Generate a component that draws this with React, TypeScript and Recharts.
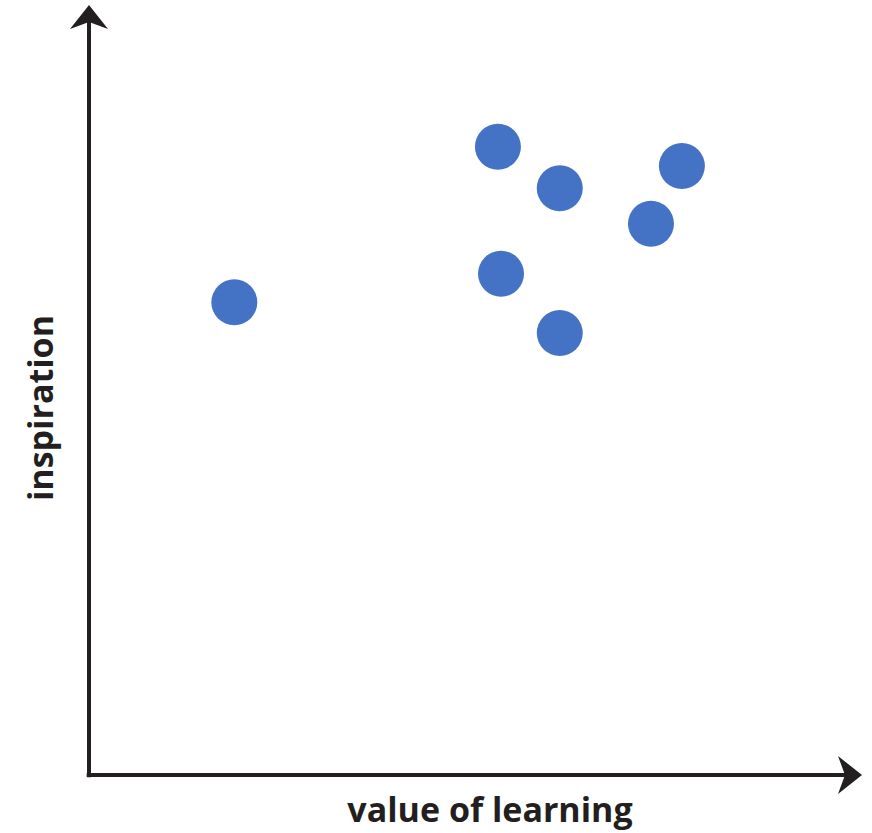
import React from 'react';
import { ScatterChart, Scatter, XAxis, YAxis, ReferenceDot, ReferenceLine } from 'recharts';

const learningValue = [18.8, 52.9, 60.9, 76.7, 72.7, 53.3, 60.9];
const inspiration = [61.4, 81.6, 76.2, 79.1, 71.6, 65.1, 57.4];

const points = learningValue.map((x, i) => ({ x, y: inspiration[i] }));

const INK = '#231f20';
const DOT = '#4472c4';

const UpArrow = (props: any) => {
  const { cx, cy } = props;
  return <polygon points={`${cx},${cy} ${cx + 19},${cy + 24} ${cx},${cy + 17} ${cx - 19},${cy + 24}`} fill={INK} />;
};

const RightArrow = (props: any) => {
  const { cx, cy } = props;
  return <polygon points={`${cx},${cy} ${cx - 24},${cy + 19} ${cx - 17},${cy} ${cx - 24},${cy - 19}`} fill={INK} />;
};

const Dot = (props: any) => <circle cx={props.cx} cy={props.cy} r={23} fill={DOT} />;

export default function App() {
  return (
    <div style={{ position: 'absolute', left: 0, top: 0, width: 872, height: 833, fontFamily: '"Open Sans", sans-serif' }}>
      <ScatterChart width={872} height={833} margin={{ top: 5, right: 10, bottom: 58, left: 89 }}>
        <XAxis type="number" dataKey="x" domain={[0, 100]} hide />
        <YAxis type="number" dataKey="y" domain={[0, 100]} hide />
        <ReferenceLine segment={[{ x: 0, y: -0.3 }, { x: 0, y: 98 }]} stroke={INK} strokeWidth={4} ifOverflow="visible" />
        <ReferenceLine segment={[{ x: -0.3, y: 0 }, { x: 98, y: 0 }]} stroke={INK} strokeWidth={4} ifOverflow="visible" />
        <ReferenceDot x={0} y={100} r={0} shape={UpArrow} ifOverflow="visible" />
        <ReferenceDot x={100} y={0} r={0} shape={RightArrow} ifOverflow="visible" />
        <Scatter data={points} shape={Dot} isAnimationActive={false} />
      </ScatterChart>
      <div style={{ position: 'absolute', left: 290, width: 400, top: 788, textAlign: 'center', fontWeight: 700, fontSize: 34, color: INK, lineHeight: '42px' }}>
        value of learning
      </div>
      <div style={{ position: 'absolute', left: 40, top: 408, width: 300, marginLeft: -150, marginTop: -21, textAlign: 'center', fontWeight: 700, fontSize: 34, color: INK, lineHeight: '42px', transform: 'rotate(-90deg)' }}>
        inspiration
      </div>
    </div>
  );
}
